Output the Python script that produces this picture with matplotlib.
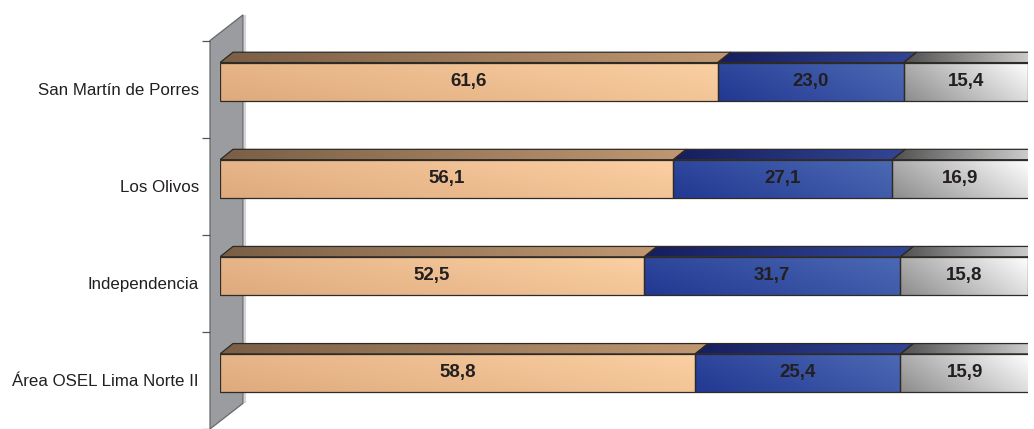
import numpy as np
import matplotlib
matplotlib.use("Agg")
import matplotlib.pyplot as plt
from matplotlib.patches import Polygon

categories = ["San Martín de Porres", "Los Olivos", "Independencia", "Área OSEL Lima Norte II"]
seg1 = [61.6, 56.1, 52.5, 58.8]
seg2 = [23.0, 27.1, 31.7, 25.4]
seg3 = [15.4, 16.9, 15.8, 15.9]

plt.rcParams['font.family'] = ['Liberation Sans', 'DejaVu Sans']

W, H = 1034, 429
fig = plt.figure(figsize=(W / 100, H / 100), dpi=100)
ax = fig.add_axes([220 / W, 0, 808 / W, 1])

px_x = 808 / 100.0   # pixels per data unit in x
px_y = 98.3          # pixels per category
DX = 13 / px_x
DY = 10.5 / px_y
bar_h = 38.5 / px_y
bar_off = -7.6 / px_y

c0px = 90.2
y0 = -c0px / px_y
y1 = (H - c0px) / px_y

def shade(c0, c1, nx=64, ny=64, diag=True):
    c0 = np.array(c0) / 255.0
    c1 = np.array(c1) / 255.0
    xs = np.linspace(0, 1, nx)
    ys = np.linspace(0, 1, ny)
    X, Y = np.meshgrid(xs, ys)
    t = (0.7 * X + 0.3 * Y) if diag else X
    return c0[None, None, :] * (1 - t[..., None]) + c1[None, None, :] * t[..., None]

def grad_patch(verts, c0, c1, z, diag=True, edge='#2e2a26'):
    poly = Polygon(verts, closed=True, facecolor='none', edgecolor=edge, lw=0.9, zorder=z + 0.5)
    ax.add_patch(poly)
    xs = [v[0] for v in verts]
    ys = [v[1] for v in verts]
    img = ax.imshow(shade(c0, c1, diag=diag), extent=(min(xs), max(xs), max(ys), min(ys)),
                    origin='lower', aspect='auto', interpolation='bilinear', zorder=z)
    img.set_clip_path(poly)

styles = [
    dict(front=((222, 170, 126), (251, 208, 162)), top=((122, 95, 70), (192, 152, 114))),
    dict(front=((34, 56, 146), (76, 106, 180)), top=((22, 30, 92), (50, 70, 150))),
    dict(front=((140, 140, 140), (255, 255, 255)), top=((80, 80, 80), (215, 215, 215))),
]

# back wall
wl, wr = -10 / px_x, 23 / px_x
wall = Polygon([(wl, -0.5), (wr, -0.5 - 26 / px_y), (wr, 3.5 - 26 / px_y), (wl, 3.5)],
               closed=True, facecolor='#9a9ca0', edgecolor='#66686c', lw=0.9, zorder=1, clip_on=False)
ax.add_patch(wall)
ax.plot([wr + 1.5 / px_x] * 2, [-0.5 - 26 / px_y, 3.5 - 26 / px_y], color='#d4d4d4', lw=1.6,
        zorder=0.9, clip_on=False, solid_capstyle='butt')

series = [seg1, seg2, seg3]
for i in range(len(categories)):
    yc = i + bar_off
    yt = yc - bar_h / 2
    yb = yc + bar_h / 2
    left = 0.0
    for s, vals in enumerate(series):
        v = vals[i]
        xr = left + v
        st = styles[s]
        # front face
        grad_patch([(left, yb), (xr, yb), (xr, yt), (left, yt)], st['front'][0], st['front'][1], 5)
        # top face
        grad_patch([(left, yt), (xr, yt), (xr + DX, yt - DY), (left + DX, yt - DY)],
                   st['top'][0], st['top'][1], 4, diag=False)
        ax.text((left + xr) / 2, yc, f"{v:.1f}".replace('.', ','), ha='center', va='center',
                fontsize=13.5, fontweight='bold', color='#231f20', zorder=10)
        left = xr
    # side face of last segment
    side = Polygon([(left, yt), (left + DX, yt - DY), (left + DX, yb - DY), (left, yb)], closed=True,
                   facecolor='#4a4a4a', edgecolor='#2e2a26', lw=0.9, zorder=4)
    ax.add_patch(side)

ax.set_xlim(0, 100)
ax.set_ylim(y1, y0)

for sp in ['top', 'right', 'bottom']:
    ax.spines[sp].set_visible(False)
ax.spines['left'].set_position(('data', wl))
ax.spines['left'].set_visible(False)
ax.set_xticks([])
ax.set_yticks([-0.5, 0.5, 1.5, 2.5, 3.5])
ax.set_yticklabels([])
ax.set_yticks(range(len(categories)), minor=True)
ax.set_yticklabels(categories, minor=True, fontsize=12.2, color='#231f20')
ax.tick_params(axis='y', which='major', length=5.5, width=0.9, color='#555555', direction='out')
ax.tick_params(axis='y', which='minor', length=0, pad=8)
ax.patch.set_alpha(0)

fig.savefig("out.png", dpi=100)
